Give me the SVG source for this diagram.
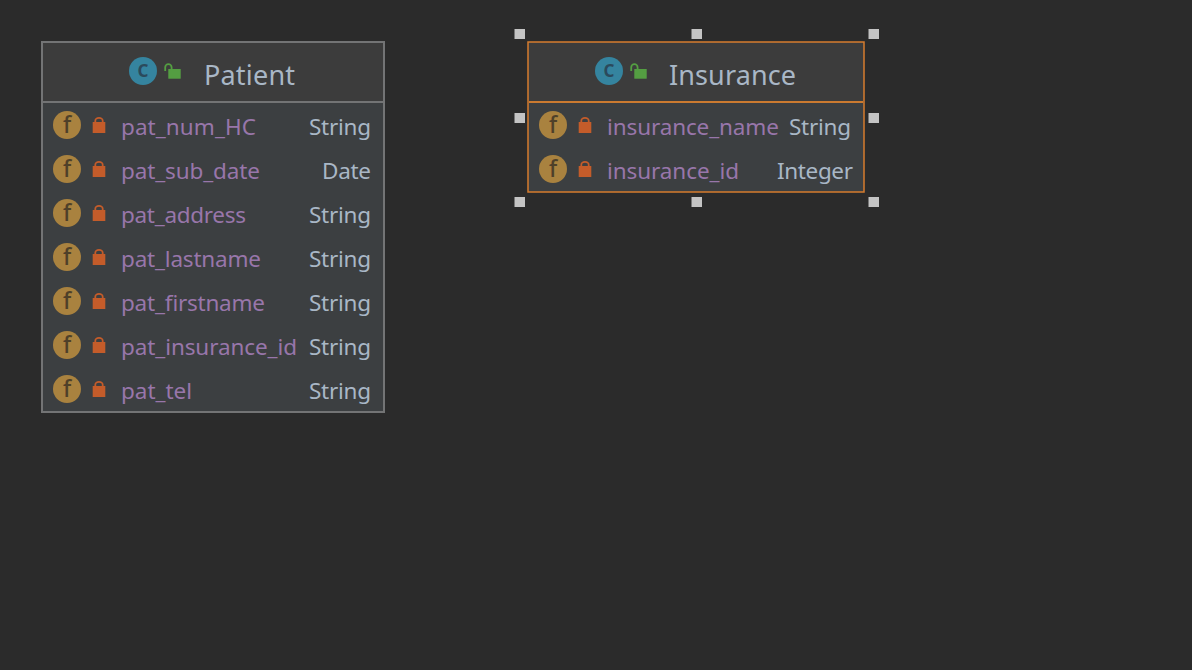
<svg xmlns="http://www.w3.org/2000/svg" width="1192" height="670" viewBox="0 0 1192 670">
<style>
text{font-family:"Noto Sans","Open Sans","Liberation Sans",sans-serif}
.name{font-size:22.5px;fill:#9876aa}
.type{font-size:22.5px;fill:#a9b7c6}
.title{font-size:27px;fill:#a9b7c6}
.fi{font-size:23px;fill:#4e4029;text-anchor:middle;font-weight:500}
.ci{font-size:17px;fill:#2b4a5c;text-anchor:middle;font-weight:700}
.h{fill:#c4c4c4}
</style>
<defs>
<g id="lock"><path d="M-3.700 -3V-4.300a3.700 2.800 0 0 1 7.400 0V-3" fill="none" stroke="#c45c2a" stroke-width="1.800"/><rect x="-6.300" y="-3" width="12.600" height="11" fill="#c45c2a"/></g>
<g id="open"><path d="M22.200 0V-3.500a3.200 3.300 0 0 1 6.400 0V-2" fill="none" stroke="#549e42" stroke-width="1.800"/><rect x="25.300" y="-2" width="12.400" height="9.700" fill="#549e42"/></g>
<g id="field"><circle cx="14" cy="0" r="14" fill="#a9823f"/><text class="fi" x="14" y="8">f</text><use href="#lock" x="46" y="0"/></g>
<g id="cls"><circle r="14" fill="#35849f"/><text class="ci" y="6">C</text><use href="#open"/></g>
</defs>
<rect width="1192" height="670" fill="#2b2b2b"/>
<g id="connectors"/>
<g id="Patient">
<rect x="42" y="42" width="342" height="370" fill="#3c3f41" stroke="#737475" stroke-width="2"/>
<rect x="43" y="43" width="340" height="58" fill="#3c3c3c"/>
<rect x="43" y="101" width="340" height="2" fill="#737475"/>
<use href="#cls" x="143" y="71"/>
<text class="title" x="204" y="85" textLength="91">Patient</text>
<use href="#field" x="53" y="125"/><text class="name" x="121" y="135" textLength="135">pat_num_HC</text><text class="type" x="309" y="135" textLength="62">String</text>
<use href="#field" x="53" y="169"/><text class="name" x="121" y="179" textLength="139">pat_sub_date</text><text class="type" x="322" y="179" textLength="49">Date</text>
<use href="#field" x="53" y="213"/><text class="name" x="121" y="223" textLength="125">pat_address</text><text class="type" x="309" y="223" textLength="62">String</text>
<use href="#field" x="53" y="257"/><text class="name" x="121" y="267" textLength="140">pat_lastname</text><text class="type" x="309" y="267" textLength="62">String</text>
<use href="#field" x="53" y="301"/><text class="name" x="121" y="311" textLength="144">pat_firstname</text><text class="type" x="309" y="311" textLength="62">String</text>
<use href="#field" x="53" y="345"/><text class="name" x="121" y="355" textLength="176">pat_insurance_id</text><text class="type" x="309" y="355" textLength="62">String</text>
<use href="#field" x="53" y="389"/><text class="name" x="121" y="399" textLength="71">pat_tel</text><text class="type" x="309" y="399" textLength="62">String</text>
</g>
<g id="Insurance">
<rect x="528" y="42" width="336" height="150" fill="#3c3f41" stroke="#d67c2e" stroke-width="1.500"/>
<rect x="529" y="43" width="334" height="58" fill="#3c3c3c"/>
<rect x="529" y="101" width="334" height="2" fill="#cb7a30"/>
<use href="#cls" x="609" y="71"/>
<text class="title" x="669" y="85" textLength="127">Insurance</text>
<use href="#field" x="539" y="125"/><text class="name" x="607" y="135" textLength="172">insurance_name</text><text class="type" x="789" y="135" textLength="62">String</text>
<use href="#field" x="539" y="169"/><text class="name" x="607" y="179" textLength="132">insurance_id</text><text class="type" x="777" y="179" textLength="76">Integer</text>
<rect class="h" x="514.500" y="29" width="10.500" height="10"/><rect class="h" x="691.500" y="29" width="10.500" height="10"/><rect class="h" x="868.500" y="29" width="10.500" height="10"/>
<rect class="h" x="514.500" y="113" width="10.500" height="10"/><rect class="h" x="868.500" y="113" width="10.500" height="10"/>
<rect class="h" x="514.500" y="197" width="10.500" height="10"/><rect class="h" x="691.500" y="197" width="10.500" height="10"/><rect class="h" x="868.500" y="197" width="10.500" height="10"/>
</g>
</svg>
